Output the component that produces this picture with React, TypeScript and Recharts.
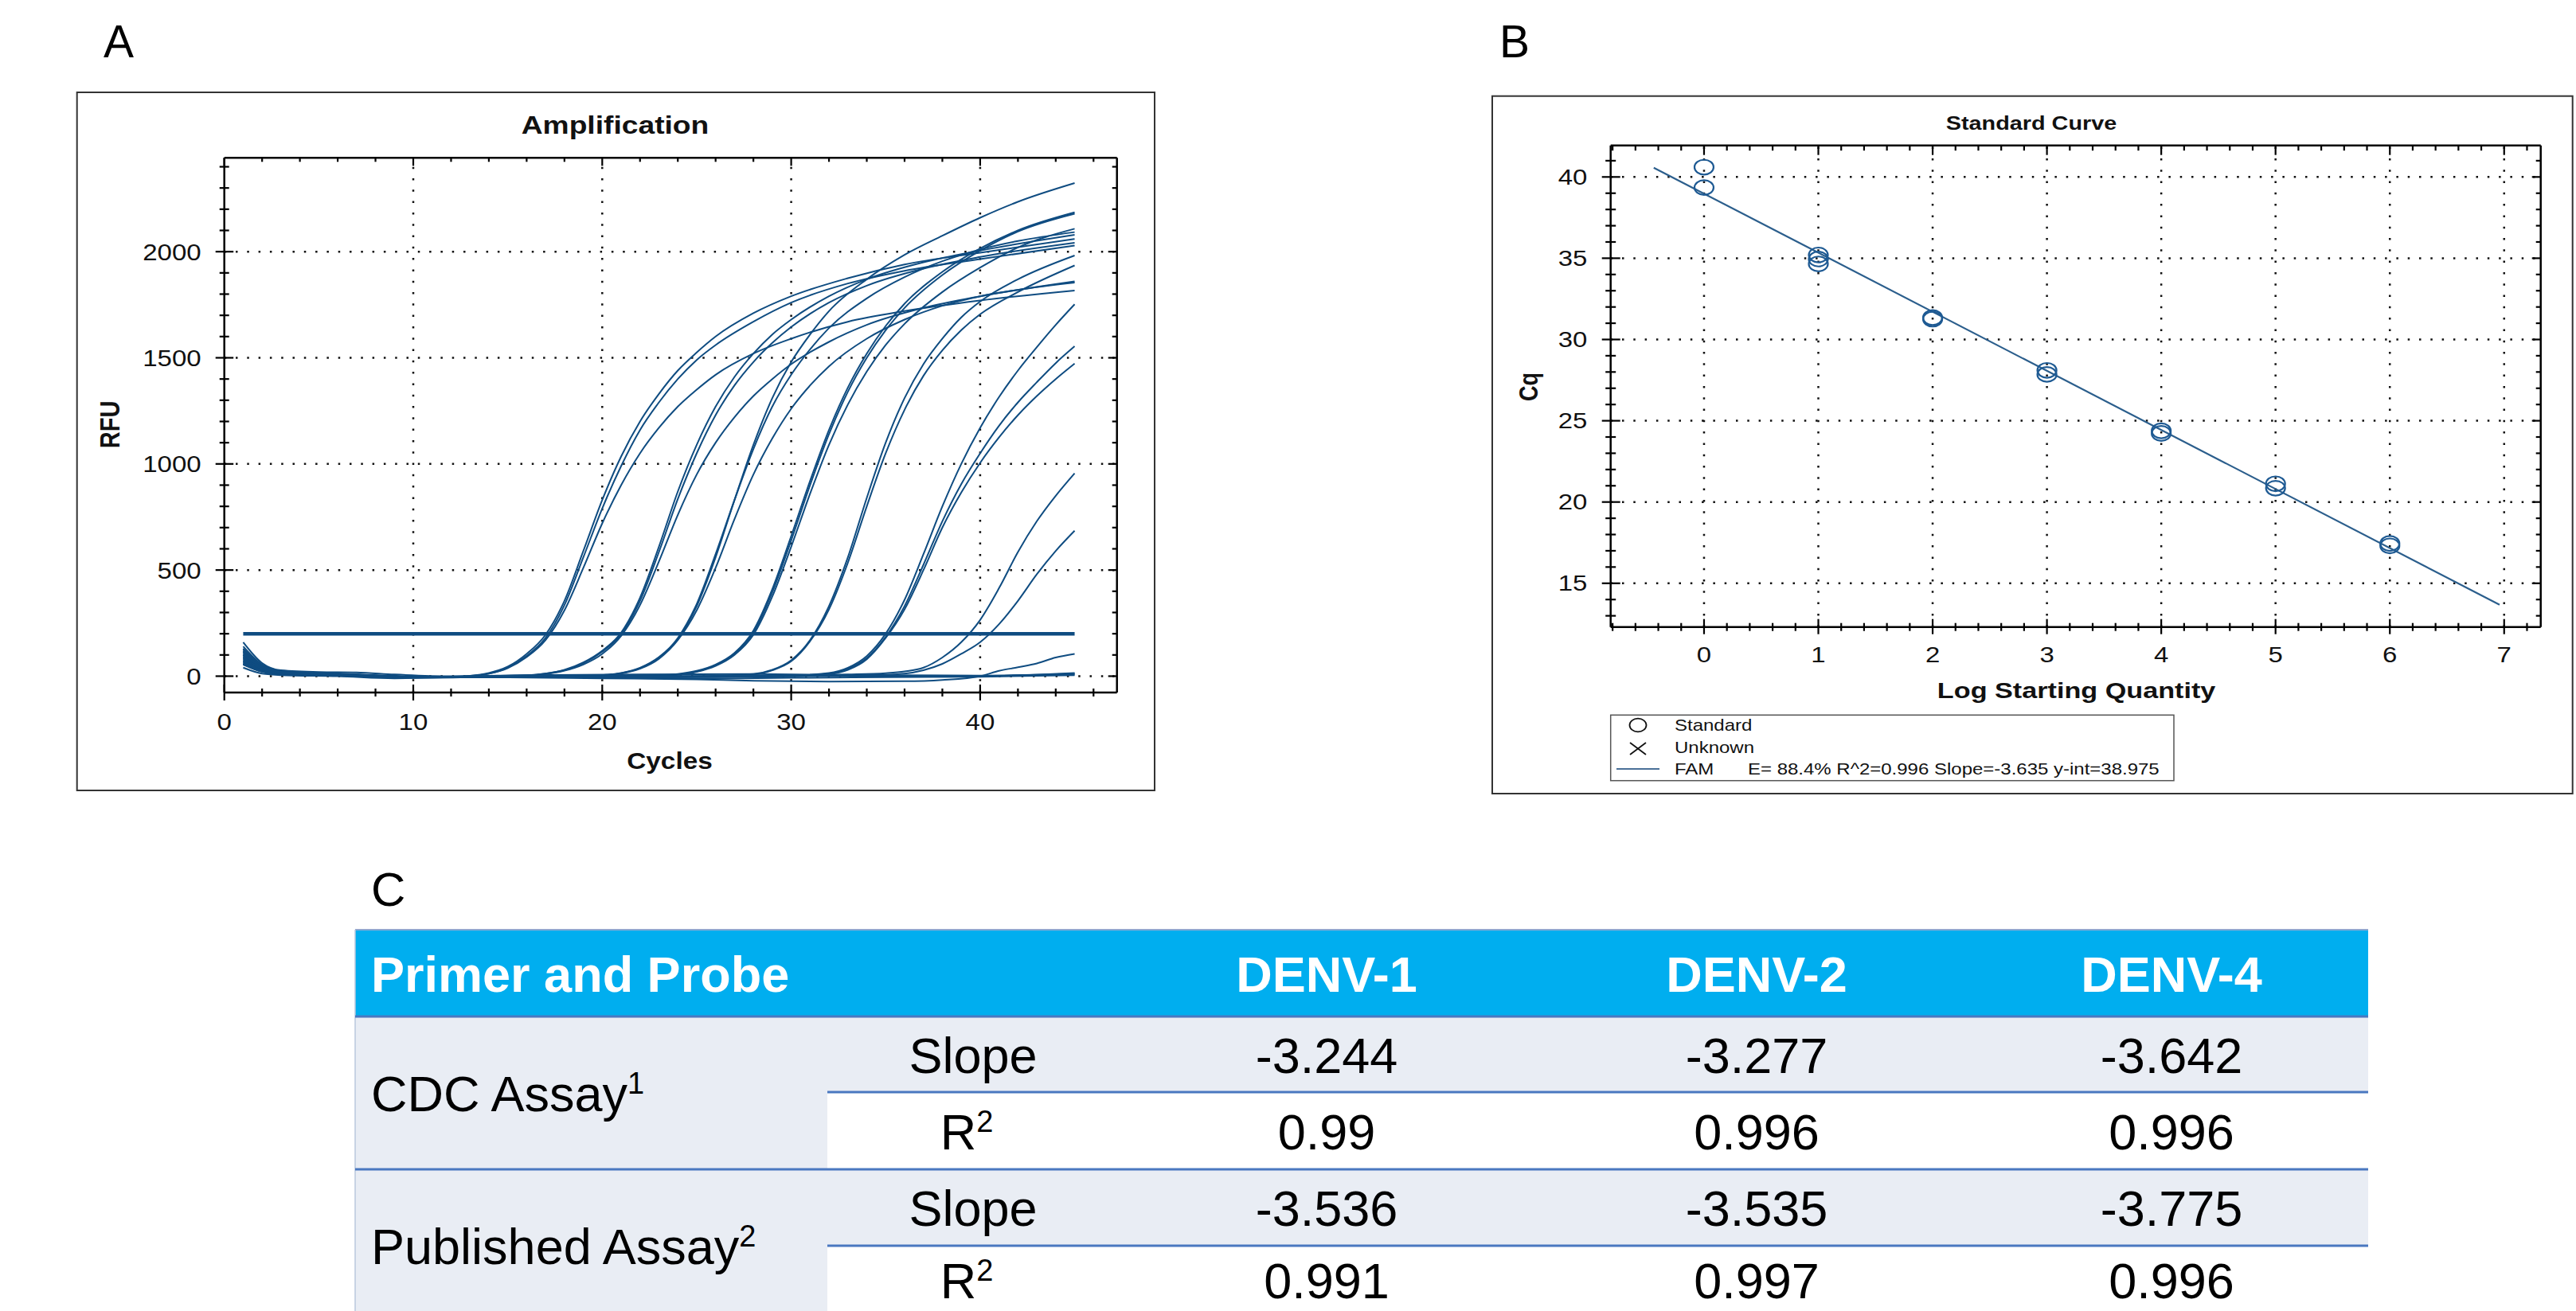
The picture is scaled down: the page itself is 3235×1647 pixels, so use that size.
import React from 'react';
import { ComposedChart, Line, Scatter, XAxis, YAxis, ReferenceLine } from 'recharts';

const FONT = '"Liberation Sans", Arial, Helvetica, sans-serif';

// ---------------- Panel A: amplification curves [cycle, RFU] ----------------
const G1A: [number, number][] = [[1,120],[2,45],[3,22],[4,16],[6,12],[8,5],[10,-2],[12,-4],[13,0],[14,12],[15,40],[16,95],[17,180],[18,335],[19,560],[20,790],[21,990],[22,1160],[23,1290],[24,1400],[25,1490],[26,1560],[28,1670],[30,1760],[33,1850],[36,1910],[40,1965],[45,2029]];
const G1B: [number, number][] = [[1,95],[2,38],[3,18],[4,14],[6,10],[8,3],[10,-4],[12,-2],[13,2],[14,15],[15,45],[16,105],[17,195],[18,355],[19,590],[20,830],[21,1035],[22,1200],[23,1330],[24,1440],[25,1525],[26,1600],[28,1710],[30,1790],[33,1875],[36,1940],[40,1995],[45,2060]];
const G1C: [number, number][] = [[1,70],[2,30],[3,14],[4,12],[6,8],[8,2],[10,-5],[12,-3],[13,1],[14,12],[15,38],[16,90],[17,170],[18,310],[19,510],[20,720],[21,900],[22,1050],[23,1170],[24,1270],[25,1350],[26,1420],[28,1520],[30,1590],[33,1670],[36,1720],[40,1770],[45,1817]];
const G2A: [number, number][] = [[1,110],[2,40],[3,20],[4,15],[6,10],[8,2],[10,-5],[12,-6],[14,-2],[16,3],[17,12],[18,30],[19,65],[20,120],[21,205],[22,370],[23,610],[24,870],[25,1090],[26,1270],[27,1410],[28,1520],[29,1610],[30,1680],[32,1790],[34,1870],[37,1950],[40,2005],[45,2079]];
const G2B: [number, number][] = [[1,85],[2,35],[3,17],[4,12],[6,8],[8,0],[10,-6],[12,-5],[14,0],[16,4],[17,12],[18,28],[19,60],[20,115],[21,198],[22,355],[23,585],[24,835],[25,1050],[26,1230],[27,1370],[28,1480],[29,1570],[30,1645],[32,1760],[34,1840],[37,1920],[40,1975],[45,2042]];
const G2C: [number, number][] = [[1,60],[2,25],[3,12],[4,10],[6,6],[8,0],[10,-4],[12,-6],[14,-1],[16,2],[17,10],[18,26],[19,55],[20,105],[21,190],[22,335],[23,540],[24,760],[25,950],[26,1100],[27,1220],[28,1320],[29,1400],[30,1470],[32,1575],[34,1655],[37,1735],[40,1790],[45,1860]];
const G3A: [number, number][] = [[1,140],[2,55],[3,25],[4,18],[6,12],[8,4],[10,-3],[12,-5],[15,-4],[18,0],[20,5],[21,15],[22,40],[23,90],[24,175],[25,330],[26,560],[27,830],[28,1090],[29,1310],[30,1480],[31,1610],[32,1720],[34,1870],[36,1985],[38,2075],[40,2160],[42,2235],[45,2323]];
const G3B: [number, number][] = [[1,100],[2,40],[3,18],[4,14],[6,9],[8,0],[10,-6],[12,-6],[15,-3],[18,0],[20,4],[21,14],[22,38],[23,88],[24,180],[25,340],[26,575],[27,830],[28,1070],[29,1270],[30,1420],[31,1540],[32,1640],[34,1780],[36,1880],[38,1955],[40,2010],[42,2050],[45,2092]];
const G3C: [number, number][] = [[1,75],[2,30],[3,15],[4,12],[6,8],[8,1],[10,-4],[12,-5],[15,-2],[18,1],[20,4],[21,12],[22,35],[23,82],[24,170],[25,310],[26,510],[27,740],[28,950],[29,1120],[30,1260],[31,1370],[32,1460],[34,1590],[36,1680],[38,1745],[40,1790],[42,1820],[45,1854]];
const G4A: [number, number][] = [[1,130],[2,50],[3,22],[4,16],[6,10],[8,2],[10,-4],[13,-6],[16,-3],[20,0],[23,4],[24,10],[25,25],[26,55],[27,110],[28,215],[29,410],[30,660],[31,920],[32,1160],[33,1360],[34,1520],[35,1650],[36,1755],[38,1905],[40,2015],[42,2100],[45,2185]];
const G4B: [number, number][] = [[1,90],[2,36],[3,18],[4,13],[6,8],[8,0],[10,-6],[13,-6],[16,-4],[20,-2],[23,2],[24,8],[25,22],[26,52],[27,105],[28,205],[29,395],[30,640],[31,900],[32,1140],[33,1340],[34,1500],[35,1630],[36,1735],[38,1890],[40,2005],[42,2095],[45,2179]];
const G4C: [number, number][] = [[1,65],[2,28],[3,14],[4,11],[6,6],[8,-1],[10,-5],[13,-5],[16,-2],[20,-4],[23,0],[24,6],[25,20],[26,48],[27,100],[28,195],[29,375],[30,610],[31,860],[32,1090],[33,1280],[34,1435],[35,1560],[36,1660],[38,1810],[40,1925],[42,2020],[45,2108]];
const G5A: [number, number][] = [[1,115],[2,45],[3,20],[4,15],[6,10],[8,2],[10,-3],[13,-5],[17,-4],[22,-2],[26,2],[28,10],[29,30],[30,75],[31,170],[32,330],[33,560],[34,840],[35,1100],[36,1310],[37,1470],[38,1590],[39,1690],[40,1765],[42,1870],[45,1982]];
const G5B: [number, number][] = [[1,80],[2,32],[3,16],[4,12],[6,7],[8,0],[10,-5],[13,-6],[17,-5],[22,-4],[26,0],[28,8],[29,28],[30,70],[31,165],[32,315],[33,535],[34,800],[35,1050],[36,1255],[37,1415],[38,1535],[39,1630],[40,1705],[42,1810],[45,1935]];
const G6A: [number, number][] = [[1,125],[2,48],[3,22],[4,16],[6,10],[8,3],[10,-3],[14,-5],[20,-3],[26,0],[30,3],[32,15],[33,40],[34,95],[35,200],[36,360],[37,575],[38,800],[39,1000],[40,1170],[41,1315],[42,1440],[43,1550],[44,1655],[45,1752]];
const G6B: [number, number][] = [[1,100],[2,40],[3,18],[4,14],[6,9],[8,1],[10,-5],[14,-6],[20,-5],[26,-2],[30,2],[32,12],[33,35],[34,85],[35,185],[36,330],[37,525],[38,730],[39,905],[40,1050],[41,1180],[42,1290],[43,1385],[44,1475],[45,1554]];
const G6C: [number, number][] = [[1,55],[2,22],[3,11],[4,9],[6,5],[8,-1],[10,-6],[14,-5],[20,-6],[26,-3],[30,0],[32,10],[33,30],[34,80],[35,180],[36,315],[37,500],[38,700],[39,865],[40,1005],[41,1125],[42,1230],[43,1320],[44,1400],[45,1473]];
const G7: [number, number][] = [[1,105],[2,42],[3,19],[4,14],[6,9],[8,1],[10,-4],[14,-6],[20,-4],[26,0],[30,4],[33,8],[35,14],[36,22],[37,40],[38,88],[39,160],[40,265],[41,415],[42,585],[43,730],[44,850],[45,956]];
const G8: [number, number][] = [[1,72],[2,28],[3,14],[4,10],[6,6],[8,-1],[10,-5],[14,-6],[20,-5],[26,-2],[30,0],[34,4],[36,12],[37,28],[38,58],[39,105],[40,160],[41,245],[42,355],[43,480],[44,590],[45,685]];
const G9: [number, number][] = [[1,60],[2,25],[3,10],[5,5],[8,0],[10,-5],[14,-5],[20,-10],[25,-15],[28,-22],[32,-25],[36,-24],[38,-18],[40,0],[41,25],[42,42],[43,60],[44,88],[45,105]];
const F1: [number, number][] = [[1,90],[2,35],[3,15],[5,10],[8,0],[10,-5],[13,-3],[16,5],[20,0],[25,-5],[30,0],[35,3],[40,2],[45,8]];
const F2: [number, number][] = [[1,55],[2,20],[3,8],[5,5],[8,-3],[10,-8],[13,-5],[16,0],[20,-5],[25,-12],[30,-8],[35,-5],[40,-3],[45,5]];
const F3: [number, number][] = [[1,40],[2,12],[3,5],[6,0],[9,-10],[12,-5],[15,0],[20,3],[25,0],[30,5],[35,0],[40,0],[45,15]];
const F4: [number, number][] = [[1,160],[2,62],[3,28],[5,20],[7,18],[9,8],[12,0],[16,5],[22,8],[28,10],[34,5],[40,3],[45,12]];

const AMP_CURVES = [G1A, G1B, G1C, G2A, G2B, G2C, G3A, G3B, G3C, G4A, G4B, G4C, G5A, G5B, G6A, G6B, G6C, G7, G8, G9, F1, F2, F3, F4];
const THRESHOLD: [number, number][] = [[1, 200], [45, 200]];

const A_X_DOMAIN: [number, number] = [0, 47.24];
const A_Y_DOMAIN: [number, number] = [-77, 2442];
const A_X_MAJOR = [0, 10, 20, 30, 40];
const A_X_TICKS = [0, 2, 4, 6, 8, 10, 12, 14, 16, 18, 20, 22, 24, 26, 28, 30, 32, 34, 36, 38, 40, 42, 44, 46];
const A_Y_MAJOR = [0, 500, 1000, 1500, 2000];
const A_Y_TICKS = [0, 100, 200, 300, 400, 500, 600, 700, 800, 900, 1000, 1100, 1200, 1300, 1400, 1500, 1600, 1700, 1800, 1900, 2000, 2100, 2200, 2300, 2400];
const A_X_GRID = [10, 20, 30, 40];
const A_Y_GRID = [0, 500, 1000, 1500, 2000];

// ---------------- Panel B: standard curve ----------------
const STD_LOG = [0, 0, 1, 1, 1, 2, 2, 3, 3, 4, 4, 5, 5, 6, 6];
const STD_CQ = [40.6, 39.35, 35.2, 34.95, 34.65, 31.35, 31.25, 28.1, 27.85, 24.38, 24.22, 21.12, 20.85, 17.45, 17.3];
const FIT_LOG = [-0.44, 6.96];
const FIT_CQ = [40.57, 13.68];

const B_X_DOMAIN: [number, number] = [-0.817, 7.32];
const B_Y_DOMAIN: [number, number] = [12.31, 41.94];
const B_X_MAJOR = [0, 1, 2, 3, 4, 5, 6, 7];
const B_X_TICKS = [-0.8, -0.6, -0.4, -0.2, 0, 0.2, 0.4, 0.6, 0.8, 1, 1.2, 1.4, 1.6, 1.8, 2, 2.2, 2.4, 2.6, 2.8, 3, 3.2, 3.4, 3.6, 3.8, 4, 4.2, 4.4, 4.6, 4.8, 5, 5.2, 5.4, 5.6, 5.8, 6, 6.2, 6.4, 6.6, 6.8, 7, 7.2];
const B_Y_MAJOR = [15, 20, 25, 30, 35, 40];
const B_Y_TICKS = [13, 14, 15, 16, 17, 18, 19, 20, 21, 22, 23, 24, 25, 26, 27, 28, 29, 30, 31, 32, 33, 34, 35, 36, 37, 38, 39, 40, 41];
const B_X_GRID = [0, 1, 2, 3, 4, 5, 6, 7];
const B_Y_GRID = [15, 20, 25, 30, 35, 40];

// ---------------- Panel C: table ----------------
const TABLE_HEADER = ['Primer and Probe', 'DENV-1', 'DENV-2', 'DENV-4'];
const ASSAY_NAMES = ['CDC Assay', 'Published Assay'];
const ASSAY_REFS = ['1', '2'];
const CDC_SLOPE = ['-3.244', '-3.277', '-3.642'];
const CDC_R2 = ['0.99', '0.996', '0.996'];
const PUB_SLOPE = ['-3.536', '-3.535', '-3.775'];
const PUB_R2 = ['0.991', '0.997', '0.996'];

const LINE_BLUE = '#0F4C81';
const AXIS_LINE = { stroke: '#000', strokeWidth: 2.5 };
const GRID_STYLE = { stroke: '#111', strokeWidth: 2.5, strokeDasharray: '2.5 11.8' };

const toXY = (arr: [number, number][]) => arr.map(([x, y]) => ({ x, y }));

interface TickOpts {
  side: 'bottom' | 'top' | 'left' | 'right';
  major: number[];
  majorIn: number;
  majorOut: number;
  minorIn: number;
  minorOut: number;
  labels?: boolean;
  fontSize?: number;
  scaleX?: number;
  offset?: number;
}

const makeTick = (o: TickOpts) => (props: any) => {
  const { x, y, payload } = props;
  const v = Number(payload.value);
  const isMajor = o.major.some((m) => Math.abs(m - v) < 1e-6);
  const tin = isMajor ? o.majorIn : o.minorIn;
  const tout = isMajor ? o.majorOut : o.minorOut;
  const fs = o.fontSize ?? 28;
  const sx = o.scaleX ?? 1;
  const off = o.offset ?? 0;
  let line: any = null;
  let label: any = null;
  if (o.side === 'bottom') {
    line = <line x1={x} x2={x} y1={y - tin} y2={y + tout} />;
    if (o.labels && isMajor)
      label = (
        <text transform={`translate(${x},${y + off}) scale(${sx},1)`} textAnchor="middle" fontSize={fs} fontFamily={FONT} fill="#111">
          {v}
        </text>
      );
  } else if (o.side === 'top') {
    line = <line x1={x} x2={x} y1={y} y2={y + tin} />;
  } else if (o.side === 'left') {
    line = <line x1={x - tout} x2={x + tin} y1={y} y2={y} />;
    if (o.labels && isMajor)
      label = (
        <text transform={`translate(${x - off},${y + fs * 0.358}) scale(${sx},1)`} textAnchor="end" fontSize={fs} fontFamily={FONT} fill="#111">
          {v}
        </text>
      );
  } else {
    line = <line x1={x - tin} x2={x} y1={y} y2={y} />;
  }
  return (
    <g>
      <g stroke="#000" strokeWidth={2.2}>{line}</g>
      {label}
    </g>
  );
};

function PanelA() {
  return (
    <ComposedChart width={1353} height={877} margin={{ top: 72.3, right: 37.3, bottom: 63, left: 84.7 }}>
      <XAxis xAxisId="b" type="number" dataKey="x" orientation="bottom" domain={A_X_DOMAIN} allowDataOverflow ticks={A_X_TICKS} interval={0} height={60} tickSize={0} tickMargin={0} tickLine={false} axisLine={AXIS_LINE}
        tick={makeTick({ side: 'bottom', major: A_X_MAJOR, majorIn: 10, majorOut: 10, minorIn: 5, minorOut: 5, labels: true, fontSize: 29.5, scaleX: 1.12, offset: 47 })} />
      <XAxis xAxisId="t" type="number" dataKey="x" orientation="top" domain={A_X_DOMAIN} allowDataOverflow ticks={A_X_TICKS} interval={0} height={10} tickSize={0} tickMargin={0} tickLine={false} axisLine={AXIS_LINE}
        tick={makeTick({ side: 'top', major: A_X_MAJOR, majorIn: 10, majorOut: 0, minorIn: 5, minorOut: 0 })} />
      <YAxis yAxisId="l" type="number" orientation="left" domain={A_Y_DOMAIN} allowDataOverflow ticks={A_Y_TICKS} interval={0} width={100} tickSize={0} tickMargin={0} tickLine={false} axisLine={AXIS_LINE}
        tick={makeTick({ side: 'left', major: A_Y_MAJOR, majorIn: 11.5, majorOut: 11, minorIn: 6, minorOut: 6, labels: true, fontSize: 29.5, scaleX: 1.12, offset: 29 })} />
      <YAxis yAxisId="r" type="number" orientation="right" domain={A_Y_DOMAIN} allowDataOverflow ticks={A_Y_TICKS} interval={0} width={10} tickSize={0} tickMargin={0} tickLine={false} axisLine={AXIS_LINE}
        tick={makeTick({ side: 'right', major: A_Y_MAJOR, majorIn: 11, majorOut: 0, minorIn: 6, minorOut: 0 })} />
      {A_X_GRID.map((g) => (
        <ReferenceLine key={`ax${g}`} xAxisId="b" yAxisId="l" x={g} {...GRID_STYLE} />
      ))}
      {A_Y_GRID.map((g) => (
        <ReferenceLine key={`ay${g}`} xAxisId="b" yAxisId="l" y={g} {...GRID_STYLE} />
      ))}
      {AMP_CURVES.map((c, i) => (
        <Line key={`c${i}`} xAxisId="b" yAxisId="l" data={toXY(c)} dataKey="y" type="monotone" stroke={LINE_BLUE} strokeWidth={2} dot={false} activeDot={false} isAnimationActive={false} />
      ))}
      <Line xAxisId="b" yAxisId="l" data={toXY(THRESHOLD)} dataKey="y" type="linear" stroke={LINE_BLUE} strokeWidth={4.5} dot={false} activeDot={false} isAnimationActive={false} />
    </ComposedChart>
  );
}

const stdData = STD_LOG.map((x, i) => ({ x, y: STD_CQ[i] }));
const fitData = FIT_LOG.map((x, i) => ({ x, y: FIT_CQ[i] }));

const EllipseShape = (props: any) => (
  <ellipse cx={props.cx} cy={props.cy} rx={12} ry={9.3} fill="none" stroke="#1E5A93" strokeWidth={2.2} />
);

function PanelB() {
  return (
    <ComposedChart width={1357} height={876} margin={{ top: 51.7, right: 30.3, bottom: 149.3, left: 48.7 }}>
      <XAxis xAxisId="b" type="number" dataKey="x" orientation="bottom" domain={B_X_DOMAIN} allowDataOverflow ticks={B_X_TICKS} interval={0} height={60} tickSize={0} tickMargin={0} tickLine={false} axisLine={AXIS_LINE}
        tick={makeTick({ side: 'bottom', major: B_X_MAJOR, majorIn: 10, majorOut: 9, minorIn: 5, minorOut: 5, labels: true, fontSize: 27, scaleX: 1.22, offset: 44.5 })} />
      <XAxis xAxisId="t" type="number" dataKey="x" orientation="top" domain={B_X_DOMAIN} allowDataOverflow ticks={B_X_TICKS} interval={0} height={10} tickSize={0} tickMargin={0} tickLine={false} axisLine={AXIS_LINE}
        tick={makeTick({ side: 'top', major: B_X_MAJOR, majorIn: 12, majorOut: 0, minorIn: 6.5, minorOut: 0 })} />
      <YAxis yAxisId="l" type="number" dataKey="y" orientation="left" domain={B_Y_DOMAIN} allowDataOverflow ticks={B_Y_TICKS} interval={0} width={100} tickSize={0} tickMargin={0} tickLine={false} axisLine={AXIS_LINE}
        tick={makeTick({ side: 'left', major: B_Y_MAJOR, majorIn: 12, majorOut: 11, minorIn: 6.5, minorOut: 6.5, labels: true, fontSize: 27, scaleX: 1.22, offset: 29.4 })} />
      <YAxis yAxisId="r" type="number" orientation="right" domain={B_Y_DOMAIN} allowDataOverflow ticks={B_Y_TICKS} interval={0} width={10} tickSize={0} tickMargin={0} tickLine={false} axisLine={AXIS_LINE}
        tick={makeTick({ side: 'right', major: B_Y_MAJOR, majorIn: 11, majorOut: 0, minorIn: 6, minorOut: 0 })} />
      {B_X_GRID.map((g) => (
        <ReferenceLine key={`bx${g}`} xAxisId="b" yAxisId="l" x={g} {...GRID_STYLE} />
      ))}
      {B_Y_GRID.map((g) => (
        <ReferenceLine key={`by${g}`} xAxisId="b" yAxisId="l" y={g} {...GRID_STYLE} />
      ))}
      <Line xAxisId="b" yAxisId="l" data={fitData} dataKey="y" type="linear" stroke="#2B5E8C" strokeWidth={2.2} dot={false} activeDot={false} isAnimationActive={false} />
      <Scatter xAxisId="b" yAxisId="l" data={stdData} dataKey="y" shape={EllipseShape} isAnimationActive={false} />
    </ComposedChart>
  );
}

// table geometry
const T_LEFT = 446;
const T_RIGHT = 2974;
const T_TOP = 1168;
const T_ROWS = [1277, 1372, 1469, 1565, 1662];
const T_BASELINES = [1348, 1444, 1540, 1631];
const T_LABEL_RIGHT = 1039;
const T_METRIC_X = 1222;
const T_VALUE_X = [1666, 2206, 2727];
const T_FS = 63;
const T_LIGHT = '#E9EDF4';
const T_LINE = '#4A78C0';

function TableC() {
  const rowVals = [CDC_SLOPE, CDC_R2, PUB_SLOPE, PUB_R2];
  const assayBase = [1396, 1588];
  return (
    <g fontFamily={FONT}>
      <rect x={T_LEFT} y={T_TOP} width={T_RIGHT - T_LEFT} height={T_ROWS[0] - T_TOP} fill="#00AEEF" />
      <rect x={T_LEFT} y={T_ROWS[0]} width={T_LABEL_RIGHT - T_LEFT} height={1647 - T_ROWS[0]} fill={T_LIGHT} />
      <rect x={T_LABEL_RIGHT} y={T_ROWS[0]} width={T_RIGHT - T_LABEL_RIGHT} height={T_ROWS[1] - T_ROWS[0]} fill={T_LIGHT} />
      <rect x={T_LABEL_RIGHT} y={T_ROWS[2]} width={T_RIGHT - T_LABEL_RIGHT} height={T_ROWS[3] - T_ROWS[2]} fill={T_LIGHT} />
      <line x1={T_LEFT} x2={T_RIGHT} y1={T_TOP} y2={T_TOP} stroke="#8FA8D0" strokeWidth={2} />
      <line x1={T_LEFT} x2={T_LEFT} y1={T_TOP} y2={1647} stroke="#B8C7DE" strokeWidth={1.5} />
      <line x1={T_LEFT} x2={T_RIGHT} y1={T_ROWS[0]} y2={T_ROWS[0]} stroke={T_LINE} strokeWidth={3} />
      <line x1={T_LABEL_RIGHT} x2={T_RIGHT} y1={T_ROWS[1]} y2={T_ROWS[1]} stroke={T_LINE} strokeWidth={3} />
      <line x1={T_LEFT} x2={T_RIGHT} y1={T_ROWS[2]} y2={T_ROWS[2]} stroke={T_LINE} strokeWidth={3} />
      <line x1={T_LABEL_RIGHT} x2={T_RIGHT} y1={T_ROWS[3]} y2={T_ROWS[3]} stroke={T_LINE} strokeWidth={3} />
      <text x={466} y={(T_TOP + T_ROWS[0]) / 2 + 23} fontSize={T_FS} fontWeight="bold" fill="#fff">{TABLE_HEADER[0]}</text>
      {TABLE_HEADER.slice(1).map((h, i) => (
        <text key={h} x={T_VALUE_X[i]} y={(T_TOP + T_ROWS[0]) / 2 + 23} fontSize={T_FS} fontWeight="bold" fill="#fff" textAnchor="middle">{h}</text>
      ))}
      {ASSAY_NAMES.map((n, i) => (
        <text key={n} x={466} y={assayBase[i]} fontSize={T_FS} fill="#000">
          {n}
          <tspan fontSize={38} dy={-22}>{ASSAY_REFS[i]}</tspan>
        </text>
      ))}
      {[0, 1, 2, 3].map((r) => (
        <g key={`r${r}`}>
          {r % 2 === 0 ? (
            <text x={T_METRIC_X} y={T_BASELINES[r]} fontSize={T_FS} fill="#000" textAnchor="middle">Slope</text>
          ) : (
            <text x={T_METRIC_X - 8} y={T_BASELINES[r]} fontSize={T_FS} fill="#000" textAnchor="middle">
              R<tspan fontSize={38} dy={-22}>2</tspan>
            </text>
          )}
          {rowVals[r].map((v, c) => (
            <text key={c} x={T_VALUE_X[c]} y={T_BASELINES[r]} fontSize={T_FS} fill="#000" textAnchor="middle">{v}</text>
          ))}
        </g>
      ))}
    </g>
  );
}

function Overlay() {
  return (
    <svg width={3235} height={1647} style={{ position: 'absolute', left: 0, top: 0, pointerEvents: 'none' }}>
      <g fontFamily={FONT}>
        {/* panel letters */}
        <text x={130} y={72} fontSize={57} fill="#000">A</text>
        <text x={1883} y={72} fontSize={57} fill="#000">B</text>
        <text x={466} y={1138} fontSize={60} fill="#000">C</text>
        {/* panel boxes */}
        <rect x={96.7} y={116} width={1353.3} height={877} fill="none" stroke="#333" strokeWidth={2} />
        <rect x={1874} y={120.7} width={1356.7} height={876.3} fill="none" stroke="#333" strokeWidth={2} />
        {/* panel A labels */}
        <text transform="translate(772.5,167.6) scale(1.2,1)" textAnchor="middle" fontSize={31} fontWeight="bold" fill="#111">Amplification</text>
        <text transform="translate(841,966.2) scale(1.15,1)" textAnchor="middle" fontSize={29} fontWeight="bold" fill="#111">Cycles</text>
        <text transform="translate(137.5,533.4) scale(1.2,1) rotate(-90)" x={0} y={10.4} textAnchor="middle" fontSize={29} fontWeight="bold" fill="#111">RFU</text>
        {/* panel B labels */}
        <text transform="translate(2551,163) scale(1.2,1)" textAnchor="middle" fontSize={24} fontWeight="bold" fill="#111">Standard Curve</text>
        <text transform="translate(2607.6,876.5) scale(1.2,1)" textAnchor="middle" fontSize={28.5} fontWeight="bold" fill="#111">Log Starting Quantity</text>
        <text transform="translate(1919,486) scale(1.2,1) rotate(-90)" x={0} y={9.7} textAnchor="middle" fontSize={27} fontWeight="bold" fill="#111">Cq</text>
        {/* legend B */}
        <rect x={2022.7} y={898.3} width={707.3} height={82.4} fill="#fff" stroke="#555" strokeWidth={1.5} />
        <ellipse cx={2057} cy={911} rx={10.5} ry={8.3} fill="none" stroke="#111" strokeWidth={1.8} />
        <line x1={2047} y1={933} x2={2067} y2={948} stroke="#111" strokeWidth={1.8} />
        <line x1={2067} y1={933} x2={2047} y2={948} stroke="#111" strokeWidth={1.8} />
        <line x1={2030} y1={966} x2={2084} y2={966} stroke="#4A7098" strokeWidth={2} />
        <text transform="translate(2103,918.2) scale(1.2,1)" fontSize={20} fill="#111">Standard</text>
        <text transform="translate(2103,946.2) scale(1.2,1)" fontSize={20} fill="#111">Unknown</text>
        <text transform="translate(2103,973) scale(1.2,1)" fontSize={20} fill="#111">FAM</text>
        <text transform="translate(2195,973) scale(1.2,1)" fontSize={20} fill="#111">E= 88.4% R^2=0.996 Slope=-3.635 y-int=38.975</text>
        <TableC />
      </g>
    </svg>
  );
}

export default function App() {
  return (
    <div style={{ position: 'absolute', left: 0, top: 0, width: 3235, height: 1647, overflow: 'hidden', background: '#fff', fontFamily: FONT }}>
      <div style={{ position: 'absolute', left: 97, top: 116 }}>
        <PanelA />
      </div>
      <div style={{ position: 'absolute', left: 1874, top: 121 }}>
        <PanelB />
      </div>
      <Overlay />
    </div>
  );
}
